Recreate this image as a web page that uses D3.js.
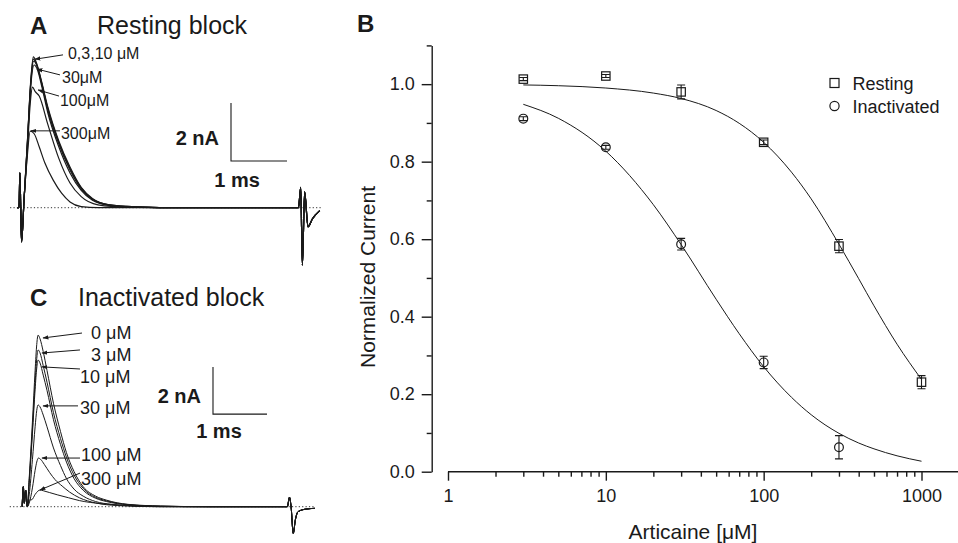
<!DOCTYPE html>
<html>
<head>
<meta charset="utf-8">
<script src="https://cdn.jsdelivr.net/npm/d3@7"></script>
<style>
  body { margin: 0; background: #fff; }
  svg { display: block; font-family: "Liberation Sans", Arial, Helvetica, sans-serif; }
</style>
</head>
<body>
<svg id="fig" width="958" height="543"></svg>
<script>
// ---- panel B : concentration / response ----
var restConc = [3, 10, 30, 100, 300, 1000];
var restMean = [1.013, 1.021, 0.980, 0.850, 0.582, 0.231];
var restErr  = [0.004, 0.004, 0.018, 0.006, 0.017, 0.017];

var inactConc = [3, 10, 30, 100, 300];
var inactMean = [0.911, 0.837, 0.587, 0.282, 0.063];
var inactErr  = [0.005, 0.005, 0.015, 0.016, 0.030];

// fitted curves
var fitConc    = [3, 5, 10, 20, 30, 50, 70, 100, 150, 200, 300, 400, 500, 700, 1000];
var restFit    = [0.998, 0.996, 0.990, 0.977, 0.963, 0.932, 0.899, 0.850, 0.773, 0.704, 0.587, 0.498, 0.428, 0.329, 0.238];
var inactFit   = [0.948, 0.912, 0.827, 0.689, 0.586, 0.445, 0.356, 0.271, 0.192, 0.147, 0.099, 0.074, 0.059, 0.041, 0.027];

var xMajor = [1, 10, 100, 1000];
var xMinor = [2,3,4,5,6,7,8,9, 20,30,40,50,60,70,80,90, 200,300,400,500,600,700,800,900];
var yMajor = [0, 0.2, 0.4, 0.6, 0.8, 1.0];
var yMinor = [0.1, 0.3, 0.5, 0.7, 0.9, 1.1];

// ---- panels A and C : current traces [ms, nA] (inward current drawn upward) ----
var artStartA = [[0.054,0],[0.09,0],[0.105,1.2],[0.12,0],[0.135,-1.18]];
var artEndA   = [[5.08,0],[5.12,0.7],[5.15,-1.98],[5.19,0.55],[5.25,-0.66],[5.33,-0.38],[5.46,-0.1]];
var restA0   = [[0.18,0.3],[0.24,2.3],[0.30,4.4],[0.345,5.2],[0.40,5.0],[0.48,4.45],[0.6,3.5],[0.8,2.3],[1.0,1.4],[1.2,0.7],[1.4,0.32],[1.7,0.1],[2.2,0.03],[3,0]];
var restA3   = [[0.18,0.3],[0.24,2.3],[0.30,4.35],[0.345,5.12],[0.40,4.95],[0.48,4.4],[0.6,3.45],[0.8,2.25],[1.0,1.35],[1.2,0.68],[1.4,0.3],[1.7,0.1],[2.2,0.03],[3,0]];
var restA10  = [[0.18,0.3],[0.24,2.25],[0.30,4.3],[0.35,5.05],[0.41,4.9],[0.5,4.25],[0.6,3.4],[0.8,2.2],[1.0,1.3],[1.2,0.65],[1.4,0.29],[1.7,0.09],[2.2,0.02],[3,0]];
var restA30  = [[0.18,0.3],[0.24,2.2],[0.30,4.2],[0.36,4.92],[0.42,4.75],[0.5,4.15],[0.6,3.3],[0.8,2.1],[1.0,1.2],[1.2,0.6],[1.4,0.26],[1.7,0.08],[2.2,0.02],[3,0]];
var restA100 = [[0.18,0.3],[0.24,2.0],[0.29,3.6],[0.33,4.16],[0.38,4.0],[0.45,3.85],[0.6,2.9],[0.8,1.7],[1.0,0.85],[1.2,0.38],[1.5,0.1],[2,0.02],[3,0]];
var restA300 = [[0.18,0.3],[0.23,1.6],[0.29,2.64],[0.36,2.55],[0.45,2.1],[0.55,1.55],[0.7,0.95],[0.85,0.5],[1.0,0.2],[1.2,0.04],[1.5,0],[3,0]];

var artStartC = [[0.04,0],[0.062,0.85],[0.08,0.15],[0.105,0.7],[0.136,0]];
var artEndC   = [[4.95,0],[4.99,0.4],[5.02,0],[5.06,-1.13],[5.1,-0.55],[5.15,-0.21],[5.3,-0.1],[5.46,-0.07]];
var inactC0   = [[0.17,1.2],[0.23,3.6],[0.28,5.8],[0.31,6.9],[0.335,7.3],[0.37,7.15],[0.43,6.6],[0.5,5.8],[0.62,4.4],[0.75,3.2],[0.86,2.3],[1.0,1.5],[1.17,0.85],[1.4,0.45],[1.6,0.28],[2.0,0.1],[2.6,0.03],[3.5,0]];
var inactC3   = [[0.17,1.1],[0.23,3.3],[0.28,5.3],[0.31,6.3],[0.335,6.67],[0.37,6.55],[0.43,6.0],[0.5,5.3],[0.62,4.0],[0.75,2.9],[0.86,2.1],[1.0,1.35],[1.17,0.78],[1.4,0.4],[1.6,0.25],[2.0,0.09],[2.6,0.02],[3.5,0]];
var inactC10  = [[0.17,1.0],[0.23,3.1],[0.28,5.0],[0.31,5.9],[0.335,6.24],[0.37,6.12],[0.43,5.6],[0.5,4.95],[0.62,3.7],[0.75,2.65],[0.86,1.9],[1.0,1.2],[1.17,0.7],[1.4,0.36],[1.6,0.22],[2.0,0.08],[2.6,0.02],[3.5,0]];
var inactC30  = [[0.17,0.5],[0.23,2.0],[0.28,3.4],[0.31,4.1],[0.335,4.33],[0.37,4.25],[0.43,3.9],[0.5,3.4],[0.62,2.5],[0.75,1.75],[0.86,1.2],[1.0,0.75],[1.17,0.45],[1.4,0.22],[1.7,0.1],[2.2,0.03],[3.0,0]];
var inactC100 = [[0.17,0.15],[0.23,0.8],[0.28,1.55],[0.31,1.9],[0.34,2.07],[0.38,2.02],[0.45,1.8],[0.55,1.45],[0.65,1.15],[0.78,0.88],[0.92,0.62],[1.1,0.38],[1.4,0.16],[1.8,0.05],[2.5,0]];
var inactC300 = [[0.17,0.28],[0.22,0.3],[0.28,0.52],[0.33,0.66],[0.37,0.71],[0.43,0.68],[0.55,0.6],[0.7,0.5],[0.9,0.38],[1.1,0.26],[1.5,0.13],[2.0,0.05],[2.6,0]];

// labels : text anchor [ms, nA], line from [ms, nA] to [ms, nA]
var labelsA = [
  {text: '0,3,10 \u03bcM', at: [0.964, 5.33], from: [0.875, 5.27], to: [0.375, 5.12]},
  {text: '30\u03bcM',      at: [0.857, 4.51], from: [0.821, 4.58], to: [0.411, 4.78]},
  {text: '100\u03bcM',     at: [0.821, 3.71], from: [0.804, 3.85], to: [0.429, 4.06]},
  {text: '300\u03bcM',     at: [0.839, 2.58], from: [0.821, 2.65], to: [0.304, 2.65]}
];
var labelsC = [
  {text: '0 \u03bcM',   at: [1.315, 7.43], from: [1.148, 7.39], to: [0.426, 7.18]},
  {text: '3 \u03bcM',   at: [1.315, 6.46], from: [1.111, 6.67], to: [0.407, 6.54]},
  {text: '10 \u03bcM',  at: [1.111, 5.52], from: [1.111, 5.86], to: [0.407, 5.95]},
  {text: '30 \u03bcM',  at: [1.111, 4.24], from: [1.074, 4.29], to: [0.426, 4.29]},
  {text: '100 \u03bcM', at: [1.130, 2.20], from: [1.111, 2.07], to: [0.407, 2.07]},
  {text: '300 \u03bcM', at: [1.130, 1.22], from: [1.111, 1.43], to: [0.370, 0.71]}
];

var ink = '#1a1a1a';
var svg = d3.select('#fig');
svg.append('rect').attr('width', 958).attr('height', 543).attr('fill', '#fff');

var defs = svg.append('defs');
defs.append('marker').attr('id', 'arr')
  .attr('viewBox', '0 0 10 10').attr('refX', 9).attr('refY', 5)
  .attr('markerWidth', 6).attr('markerHeight', 6).attr('orient', 'auto')
  .append('path').attr('d', 'M0,1.5L10,5L0,8.5Z').attr('fill', ink);

function panelLetter(txt, x, y) {
  svg.append('text').attr('x', x).attr('y', y).attr('font-size', 24)
    .attr('font-weight', 'bold').attr('fill', ink).text(txt);
}

// ---------- traces ----------
function drawTraces(cfg) {
  var g = svg.append('g');
  var line = d3.line()
    .x(function(d) { return cfg.x(d[0]); })
    .y(function(d) { return cfg.y(d[1]); })
    .curve(d3.curveMonotoneX);

  // zero current
  g.append('line')
    .attr('x1', cfg.x(cfg.base[0])).attr('x2', cfg.x(cfg.base[1]))
    .attr('y1', cfg.y(0)).attr('y2', cfg.y(0))
    .attr('stroke', ink).attr('stroke-width', 0.9).attr('stroke-dasharray', '1.2,2.2');

  cfg.traces.forEach(function(tr) {
    g.append('path')
      .datum([].concat(cfg.start, tr, cfg.end))
      .attr('d', line)
      .attr('fill', 'none').attr('stroke', ink)
      .attr('stroke-width', cfg.lw).attr('stroke-linejoin', 'round');
  });

  // scale bar
  var sx = cfg.x(cfg.bar[0]), sy = cfg.y(cfg.bar[1]);
  var sTop = cfg.y(cfg.bar[1] + 2), sRight = cfg.x(cfg.bar[0] + 1);
  g.append('path')
    .attr('d', 'M' + sx + ',' + sTop + 'V' + sy + 'H' + sRight)
    .attr('fill', 'none').attr('stroke', ink).attr('stroke-width', 1.1);
  g.append('text').attr('x', sx - 12).attr('y', (sTop + sy) / 2 + 5.5 + 7)
    .attr('text-anchor', 'end').attr('font-size', 20).attr('font-weight', 'bold')
    .attr('fill', ink).text('2 nA');
  g.append('text').attr('x', sx + 6).attr('y', sy + cfg.msGap)
    .attr('text-anchor', 'middle').attr('font-size', 20).attr('font-weight', 'bold')
    .attr('fill', ink).text('1 ms');

  cfg.labels.forEach(function(lb) {
    g.append('line')
      .attr('x1', cfg.x(lb.from[0])).attr('y1', cfg.y(lb.from[1]))
      .attr('x2', cfg.x(lb.to[0])).attr('y2', cfg.y(lb.to[1]))
      .attr('stroke', ink).attr('stroke-width', 1).attr('marker-end', 'url(#arr)');
    g.append('text')
      .attr('x', cfg.x(lb.at[0])).attr('y', cfg.y(lb.at[1]) + cfg.fs * 0.36)
      .attr('font-size', cfg.fs).attr('fill', ink).text(lb.text);
  });
}

// panel A : 56 px per ms, 29 px per nA
var xA = d3.scaleLinear().domain([0, 1]).range([14, 70]);
var yA = d3.scaleLinear().domain([0, 2]).range([207.7, 149.7]);
drawTraces({
  x: xA, y: yA, lw: 1.2, fs: 16, base: [-0.07, 5.5],
  start: artStartA, end: artEndA,
  traces: [restA300, restA100, restA30, restA10, restA3, restA0],
  bar: [3.875, 1.61], msGap: 26, labels: labelsA
});
panelLetter('A', 30, 34);
svg.append('text').attr('x', 97).attr('y', 34).attr('font-size', 25).attr('fill', ink).text('Resting block');

// panel C : 54 px per ms, 23.5 px per nA
var xC = d3.scaleLinear().domain([0, 1]).range([20, 74]);
var yC = d3.scaleLinear().domain([0, 2]).range([506.7, 459.7]);
drawTraces({
  x: xC, y: yC, lw: 1, fs: 18, base: [-0.19, 5.46],
  start: artStartC, end: artEndC,
  traces: [inactC300, inactC100, inactC30, inactC10, inactC3, inactC0],
  bar: [3.574, 3.94], msGap: 24, labels: labelsC
});
panelLetter('C', 30, 306);
svg.append('text').attr('x', 78).attr('y', 306).attr('font-size', 25).attr('fill', ink).text('Inactivated block');

// ---------- panel B ----------
panelLetter('B', 357, 32);

var x = d3.scaleLog().domain([1, 1000]).range([448, 921.5]);
var y = d3.scaleLinear().domain([0, 1.1]).range([471.7, 45.4]);
var yAxisX = 431.7;

var gy = svg.append('g').attr('transform', 'translate(' + yAxisX + ',0)');
gy.call(d3.axisLeft(y).tickValues(yMajor).tickSize(10).tickSizeOuter(0)
  .tickPadding(7).tickFormat(d3.format('.1f')));
gy.append('g').call(d3.axisLeft(y).tickValues(yMinor).tickSize(5).tickFormat(''))
  .select('.domain').remove();

var gx = svg.append('g').attr('transform', 'translate(0,' + y(0) + ')');
gx.call(d3.axisBottom(x).tickValues(xMajor).tickSize(9).tickSizeOuter(0)
  .tickPadding(9).tickFormat(d3.format('d')));
gx.select('.domain').attr('d', 'M' + x(1) + ',0H958');
gx.append('g').call(d3.axisBottom(x).tickValues(xMinor).tickSize(5).tickFormat(''))
  .select('.domain').remove();

svg.selectAll('.tick text').attr('font-size', 18).attr('font-family', null).attr('fill', ink);
svg.selectAll('.tick line, .domain').attr('stroke', ink).attr('stroke-width', 1.4);

svg.append('text').attr('x', 693).attr('y', 539).attr('text-anchor', 'middle')
  .attr('font-size', 21).attr('fill', ink).text('Articaine [\u03bcM]');
svg.append('text').attr('transform', 'translate(375,277) rotate(-90)')
  .attr('text-anchor', 'middle').attr('font-size', 21).attr('fill', ink)
  .text('Normalized Current');

var fitLine = d3.line()
  .x(function(d, i) { return x(fitConc[i]); })
  .y(function(d) { return y(d); })
  .curve(d3.curveMonotoneX);
[restFit, inactFit].forEach(function(f) {
  svg.append('path').datum(f).attr('d', fitLine)
    .attr('fill', 'none').attr('stroke', ink).attr('stroke-width', 1);
});

function errorBars(cs, ms, es) {
  cs.forEach(function(c, i) {
    var cx = x(c), lo = y(ms[i] - es[i]), hi = y(ms[i] + es[i]);
    var p = 'M' + cx + ',' + lo + 'V' + hi +
      'M' + (cx - 4) + ',' + lo + 'H' + (cx + 4) +
      'M' + (cx - 4) + ',' + hi + 'H' + (cx + 4);
    svg.append('path').attr('d', p).attr('fill', 'none')
      .attr('stroke', ink).attr('stroke-width', 1.1);
  });
}
errorBars(restConc, restMean, restErr);
errorBars(inactConc, inactMean, inactErr);

svg.selectAll('rect.rest').data(restConc).enter().append('rect')
  .attr('class', 'rest')
  .attr('x', function(d) { return x(d) - 4.2; })
  .attr('y', function(d, i) { return y(restMean[i]) - 4.2; })
  .attr('width', 8.4).attr('height', 8.4)
  .attr('fill', 'none').attr('stroke', ink).attr('stroke-width', 1.2);

svg.selectAll('circle.inact').data(inactConc).enter().append('circle')
  .attr('class', 'inact')
  .attr('cx', function(d) { return x(d); })
  .attr('cy', function(d, i) { return y(inactMean[i]); })
  .attr('r', 4.4)
  .attr('fill', 'none').attr('stroke', ink).attr('stroke-width', 1.2);

// legend
var lg = svg.append('g').attr('transform', 'translate(834.5,83)');
lg.append('rect').attr('x', -4.5).attr('y', -4.5).attr('width', 9).attr('height', 9)
  .attr('fill', 'none').attr('stroke', ink).attr('stroke-width', 1.2);
lg.append('text').attr('x', 18).attr('y', 6.5).attr('font-size', 18).attr('fill', ink).text('Resting');
lg.append('circle').attr('cx', 0).attr('cy', 23).attr('r', 4.6)
  .attr('fill', 'none').attr('stroke', ink).attr('stroke-width', 1.2);
lg.append('text').attr('x', 18).attr('y', 29.5).attr('font-size', 18).attr('fill', ink).text('Inactivated');
</script>
</body>
</html>
